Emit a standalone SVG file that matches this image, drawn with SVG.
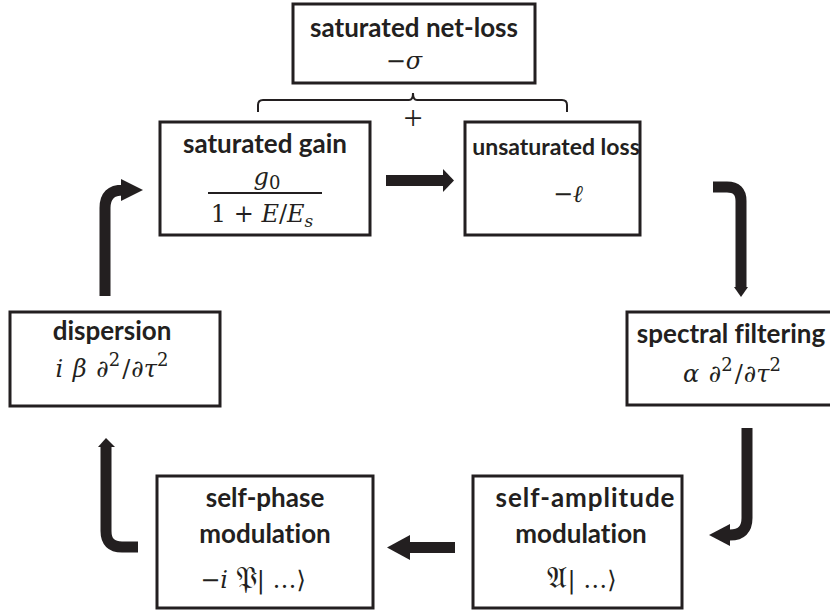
<svg xmlns="http://www.w3.org/2000/svg" width="830" height="614" viewBox="0 0 830 614">
<style>
.box{fill:#fff;stroke:#231f20;stroke-width:3}
.t{font-family:Lato,"Liberation Sans",sans-serif;font-weight:bold;font-size:26px;fill:#231f20;text-anchor:middle;font-variant-ligatures:none;font-feature-settings:"liga" 0,"dlig" 0}
.m{font-family:"DejaVu Serif","Liberation Serif",serif;font-style:italic;font-size:24px;fill:#231f20;text-anchor:middle}
.u{font-style:normal}
.fr{font-family:"DejaVu Serif","DejaVu Sans",serif;font-style:normal;font-size:30px}
.sh{fill:none;stroke:#231f20;stroke-width:11}
.hd{fill:#231f20}
.br{fill:none;stroke:#231f20;stroke-width:2}
.pl{font-family:"Liberation Serif",serif;font-size:34px;fill:#231f20;text-anchor:middle}
</style>
<rect width="830" height="614" fill="#fff"/>
<g id="connectors">
<path class="br" d="M258,112 V105 Q258,100 263,100 H409 Q413,100 413,93 Q413,100 417,100 H562 Q567,100 567,105 V112"/>
<text class="pl" x="413" y="129">+</text>
<rect class="hd" x="386" y="175" width="58" height="11"/>
<polygon class="hd" points="443,169 454,180.5 443,192"/>
<path class="sh" d="M713,187 H727 Q741,187 741,201 V288"/>
<polygon class="hd" points="734,287 748,287 741,297"/>
<path class="sh" d="M747,428 V518 Q747,535 730,535 H729"/>
<polygon class="hd" points="730,524 709,535 730,546"/>
<rect class="hd" x="409" y="542" width="46" height="11"/>
<polygon class="hd" points="410,535 387,547.5 410,560"/>
<path class="sh" d="M138,547 H122 Q106,547 106,531 V446"/>
<polygon class="hd" points="98,447 106,438 115,447"/>
<path class="sh" d="M105,296 V208 Q105,190 123,190 H122"/>
<polygon class="hd" points="121,179 143,190 121,201"/>
</g>
<g id="net-loss">
<rect class="box" x="293" y="4" width="242" height="79"/>
<text class="t" x="414" y="37">saturated net-loss</text>
<text class="m" x="404" y="69"><tspan class="u">−</tspan>σ</text>
</g>
<g id="gain">
<rect class="box" x="160" y="122" width="210" height="113"/>
<text class="t" x="265" y="153">saturated gain</text>
<text class="m" x="267" y="185">g<tspan class="u" font-size="18" dy="4">0</tspan></text>
<line x1="208" y1="193" x2="322" y2="193" stroke="#231f20" stroke-width="2"/>
<text class="m" x="262" y="222"><tspan class="u">1 + </tspan>E<tspan class="u">/</tspan>E<tspan font-size="17" dy="5">s</tspan></text>
</g>
<g id="unsat-loss">
<rect class="box" x="465" y="122" width="175" height="113"/>
<text class="t" x="556" y="155" style="font-size:23px">unsaturated loss</text>
<text class="m" x="568" y="202"><tspan class="u">−</tspan>ℓ</text>
</g>
<g id="spectral">
<rect class="box" x="627" y="312" width="208" height="93"/>
<text class="t" x="731" y="343">spectral filtering</text>
<text class="m" x="732" y="382">α <tspan dx="2">∂</tspan><tspan class="u" font-size="18" dy="-11">2</tspan><tspan class="u" dx="2" dy="11">/</tspan><tspan dx="1">∂τ</tspan><tspan class="u" font-size="18" dy="-11">2</tspan></text>
</g>
<g id="self-amplitude">
<rect class="box" x="473" y="476" width="209" height="132"/>
<text class="t" x="585" y="507" textLength="179" lengthAdjust="spacing">self-amplitude</text>
<text class="t" x="581" y="543">modulation</text>
<text class="m" x="582" y="588"><tspan class="fr">𝔄</tspan><tspan class="u">| …⟩</tspan></text>
</g>
<g id="self-phase">
<rect class="box" x="157" y="476" width="216" height="132"/>
<text class="t" x="265" y="507">self-phase</text>
<text class="t" x="265" y="543">modulation</text>
<text class="m" x="253" y="588"><tspan class="u">−</tspan>i <tspan class="fr">𝔓</tspan><tspan class="u">| …⟩</tspan></text>
</g>
<g id="dispersion">
<rect class="box" x="10" y="312" width="210" height="94"/>
<text class="t" x="112" y="340">dispersion</text>
<text class="m" x="112" y="377">i <tspan dx="2">β</tspan> <tspan dx="2">∂</tspan><tspan class="u" font-size="18" dy="-11">2</tspan><tspan class="u" dx="2" dy="11">/</tspan><tspan dx="1">∂τ</tspan><tspan class="u" font-size="18" dy="-11">2</tspan></text>
</g>
</svg>
